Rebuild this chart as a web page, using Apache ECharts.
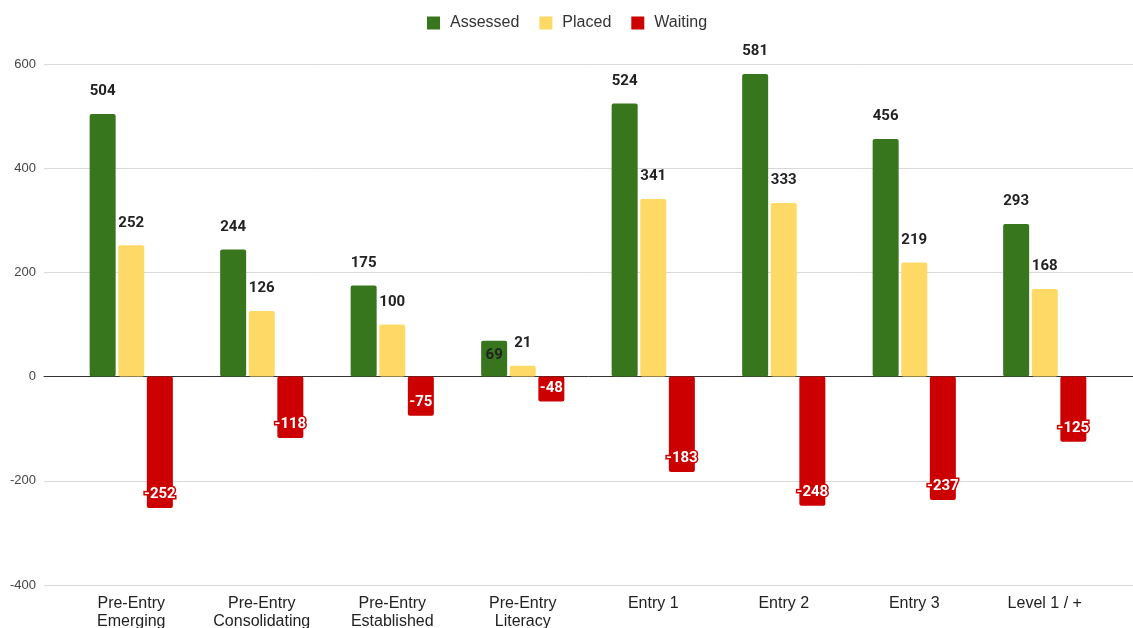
<!DOCTYPE html>
<html>
<head>
<meta charset="utf-8">
<script src="https://cdn.jsdelivr.net/npm/echarts@6/dist/echarts.min.js"></script>
<style>
  html, body { margin: 0; padding: 0; background: #fff; }
  #chart { width: 1133px; height: 628px; }
</style>
</head>
<body>
<div id="chart"></div>
<script>
// Learner counts per level
const categories = [
  'Pre-Entry\nEmerging', 'Pre-Entry\nConsolidating', 'Pre-Entry\nEstablished', 'Pre-Entry\nLiteracy',
  'Entry 1', 'Entry 2', 'Entry 3', 'Level 1 / +'
];
const assessed = [504, 244, 175, 69, 524, 581, 456, 293];
const placed = [252, 126, 100, 21, 341, 333, 219, 168];
const waiting = [-252, -118, -75, -48, -183, -248, -237, -125];
const yTicks = { min: -400, max: 600, interval: 200 };

const GREEN = '#38761d', YELLOW = '#ffd966', RED = '#cc0000';
const FONT = '"Liberation Sans", Arial, sans-serif';
const NUM_FONT = 'Roboto, "Liberation Sans", Arial, sans-serif';

const topLabel = {
  show: true, position: 'top', distance: 15,
  fontFamily: NUM_FONT, fontWeight: 'bold', fontSize: 15, color: '#222'
};

// Short bars get their label placed inside the bar
function assessedData() {
  return assessed.map(v => v < 100
    ? { value: v, label: { position: 'insideTop', distance: 7 } }
    : v);
}

const chart = echarts.init(document.getElementById('chart'));
chart.setOption({
  animation: false,
  textStyle: { fontFamily: FONT },
  legend: {
    top: 10, left: 422,
    itemWidth: 13, itemHeight: 13, itemGap: 20,
    icon: 'rect',
    textStyle: { fontSize: 16, color: '#333', padding: [0, 0, 0, 5], fontFamily: FONT },
    data: ['Assessed', 'Placed', 'Waiting']
  },
  grid: [
    // full-width frame carrying the value labels, gridlines and zero line
    { left: 44, right: 0, top: 64, bottom: 43, containLabel: false, outerBoundsMode: 'none' },
    // plotting area for the bars
    { left: 66, right: 23, top: 64, bottom: 43, containLabel: false, outerBoundsMode: 'none' }
  ],
  xAxis: [
    {
      gridIndex: 0, type: 'category', data: categories,
      axisLine: { onZero: true, lineStyle: { color: '#333', width: 1 } },
      axisTick: { show: false }, axisLabel: { show: false }, splitLine: { show: false }
    },
    {
      gridIndex: 1, type: 'category', data: categories,
      axisLine: { show: false, onZero: false }, axisTick: { show: false },
      axisLabel: { margin: 10, fontSize: 16, lineHeight: 18, color: '#222', fontFamily: FONT, interval: 0 }
    }
  ],
  yAxis: [
    {
      gridIndex: 0, type: 'value', min: yTicks.min, max: yTicks.max, interval: yTicks.interval,
      axisLine: { show: false }, axisTick: { show: false },
      axisLabel: { margin: 8, fontSize: 13, color: '#444', fontFamily: FONT },
      splitLine: { lineStyle: { color: '#d9d9d9', width: 1 } }
    },
    {
      gridIndex: 1, type: 'value', min: yTicks.min, max: yTicks.max, interval: yTicks.interval,
      show: false, splitLine: { show: false }
    }
  ],
  series: [
    {
      name: 'Assessed', type: 'bar', xAxisIndex: 1, yAxisIndex: 1,
      data: assessedData(), barWidth: 26, barGap: '10%',
      itemStyle: { color: GREEN, borderRadius: 2 },
      label: topLabel
    },
    {
      name: 'Placed', type: 'bar', xAxisIndex: 1, yAxisIndex: 1,
      data: placed, barWidth: 26, barGap: '10%',
      itemStyle: { color: YELLOW, borderRadius: 2 },
      label: topLabel
    },
    {
      name: 'Waiting', type: 'bar', xAxisIndex: 1, yAxisIndex: 1,
      data: waiting, barWidth: 26, barGap: '10%',
      itemStyle: { color: RED, borderRadius: 2 },
      label: {
        show: true, position: 'insideBottom', distance: 6,
        fontFamily: NUM_FONT, fontWeight: 'bold', fontSize: 15, color: '#fff',
        textBorderColor: RED, textBorderWidth: 3
      }
    }
  ]
});
</script>
</body>
</html>
